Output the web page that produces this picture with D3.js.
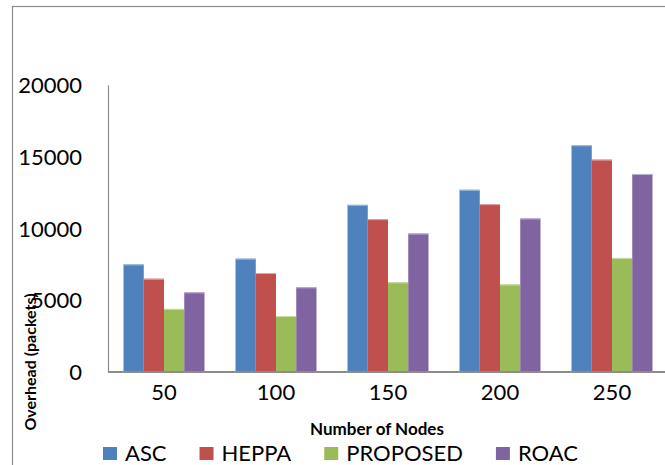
<!DOCTYPE html>
<html>
<head>
<meta charset="utf-8">
<script src="https://cdn.jsdelivr.net/npm/d3@7"></script>
<style>
  html, body { margin: 0; padding: 0; background: #fff; overflow: hidden; }
  svg { display: block; }
  text { font-family: Lato, "Open Sans", sans-serif; fill: #000; }
</style>
</head>
<body>
<svg id="chart" width="665" height="465"></svg>
<script>
// ---- data ----
const categories = ["50", "100", "150", "200", "250"];
const seriesNames = ["ASC", "HEPPA", "PROPOSED", "ROAC"];
const ascValues = [7500, 7900, 11650, 12700, 15800];
const heppaValues = [6500, 6900, 10650, 11700, 14800];
const proposedValues = [4400, 3900, 6250, 6100, 7950];
const roacValues = [5550, 5900, 9650, 10700, 13800];
const yTicks = [0, 5000, 10000, 15000, 20000];
const colors = ["#4F81BD", "#C0504D", "#9BBB59", "#8064A2"];
const highlight = ["#A7C0DE", "#DFA7A6", "#CDDDAC", "#BFB1D0"];

const seriesValues = [ascValues, heppaValues, proposedValues, roacValues];

const svg = d3.select("#chart");

// outer chart border (extends past window)
svg.append("rect")
  .attr("x", 12.5).attr("y", 6.5)
  .attr("width", 700).attr("height", 500)
  .attr("fill", "none").attr("stroke", "#8c8c8c").attr("stroke-width", 1.2);

const plotLeft = 108, plotRight = 668, plotTop = 85, plotBottom = 372;

const x0 = d3.scaleBand().domain(categories).range([plotLeft, plotRight]).paddingInner(0.277).paddingOuter(0.1385);
const x1 = d3.scaleBand().domain(seriesNames).range([0, x0.bandwidth()]);
const y = d3.scaleLinear().domain([0, 20000]).range([plotBottom, plotTop]);

// bars
const rows = categories.map((c, i) => ({ cat: c, vals: seriesNames.map((s, j) => ({ s, j, v: seriesValues[j][i] })) }));
const g = svg.append("g");
const groups = g.selectAll("g.grp").data(rows).join("g")
  .attr("class", "grp")
  .attr("transform", d => `translate(${x0(d.cat)},0)`);
groups.selectAll("rect.bar").data(d => d.vals).join("rect")
  .attr("class", "bar")
  .attr("x", d => x1(d.s))
  .attr("y", d => y(d.v))
  .attr("width", x1.bandwidth())
  .attr("height", d => y(0) - y(d.v))
  .attr("fill", d => colors[d.j]);
groups.selectAll("line.hl").data(d => d.vals).join("line")
  .attr("class", "hl")
  .attr("x1", d => x1(d.s)).attr("x2", d => x1(d.s) + x1.bandwidth())
  .attr("y1", d => y(d.v) + 0.5).attr("y2", d => y(d.v) + 0.5)
  .attr("stroke", d => highlight[d.j]).attr("stroke-width", 1);

// y axis
const yAxis = d3.axisLeft(y).tickValues(yTicks).tickSize(0).tickPadding(26).tickFormat(d3.format("d"));
const ya = svg.append("g").attr("transform", `translate(${plotLeft},0)`).call(yAxis);
ya.select(".domain").attr("stroke", "#8c8c8c").attr("stroke-width", 1.2);
ya.selectAll("text").attr("font-size", 22).attr("font-family", "Lato, sans-serif").attr("dy", "0.35em");

// x axis
const xAxis = d3.axisBottom(x0).tickSize(0).tickPadding(28);
const xa = svg.append("g").attr("transform", `translate(0,${plotBottom})`).call(xAxis);
xa.select(".domain").attr("stroke", "#8c8c8c").attr("stroke-width", 2.2).attr("d", `M${plotLeft},0H${plotRight}`);
xa.selectAll("text").attr("font-size", 22).attr("font-family", "Lato, sans-serif").attr("dy", "0");

// axis titles
svg.append("text")
  .attr("transform", `translate(36,362) rotate(-90)`)
  .attr("text-anchor", "middle")
  .attr("font-size", 16).attr("font-weight", "bold")
  .text("Overhead (packets)");

svg.append("text")
  .attr("x", 377).attr("y", 435)
  .attr("text-anchor", "middle")
  .attr("font-size", 17).attr("font-weight", "bold")
  .text("Number of Nodes");

// legend
const legend = svg.append("g");
let lx = 103;
seriesNames.forEach((s, i) => {
  legend.append("rect").attr("x", lx).attr("y", 447).attr("width", 14).attr("height", 13).attr("fill", colors[i]);
  const t = legend.append("text").attr("x", lx + 22).attr("y", 461).attr("font-size", 22).text(s);
  const w = t.node().getComputedTextLength();
  lx += 22 + w + 33;
});
</script>
</body>
</html>
